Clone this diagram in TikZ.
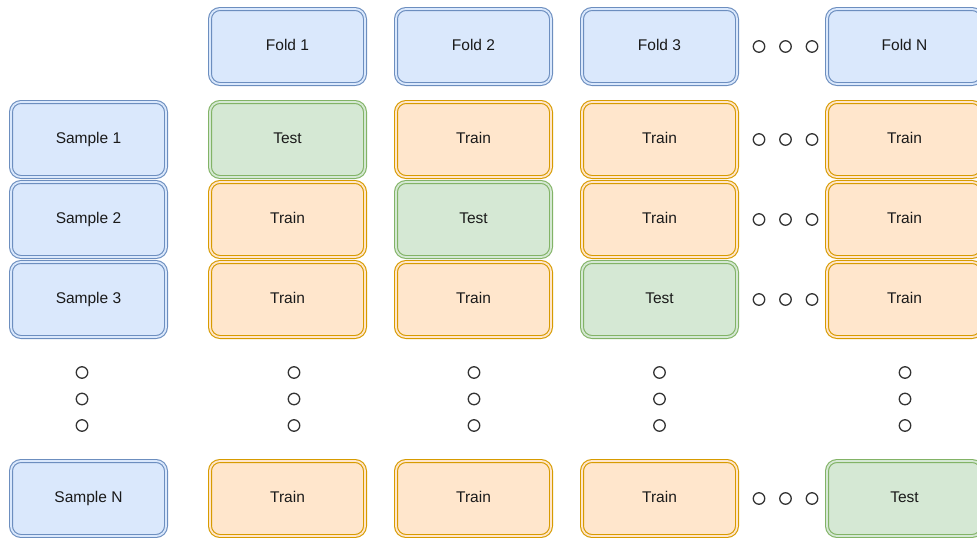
\documentclass[tikz,border=0pt]{standalone}
\usepackage{fontspec}
\setmainfont{Liberation Sans}
\definecolor{blueFill}{HTML}{DAE8FC}
\definecolor{blueLine}{HTML}{6C8EBF}
\definecolor{orangeFill}{HTML}{FFE6CC}
\definecolor{orangeLine}{HTML}{D79B00}
\definecolor{greenFill}{HTML}{D5E8D4}
\definecolor{greenLine}{HTML}{82B366}
\definecolor{dotLine}{HTML}{333333}
\definecolor{textInk}{HTML}{1A1A1A}
\tikzset{
  cell/.style={rectangle, rounded corners=10pt, minimum width=155pt, minimum height=75pt,
    line width=1.1pt, double distance=1.8pt, font=\fontsize{15.5}{18}\selectfont, text=textInk,
    inner sep=0pt, text height=11.5pt, text depth=4pt},
  bluecell/.style={cell, draw=blueLine, fill=blueFill, double=blueFill},
  traincell/.style={cell, draw=orangeLine, fill=orangeFill, double=orangeFill},
  testcell/.style={cell, draw=greenLine, fill=greenFill, double=greenFill},
  dot/.style={circle, draw=dotLine, line width=1.3pt, minimum size=11.5pt, inner sep=0pt}
}
\begin{document}
\begin{tikzpicture}[x=1pt, y=-1pt]
  \useasboundingbox (0,0) rectangle (977,538);
  \begin{scope}
  \clip (0,0) rectangle (977,538);

  % fold headers
  \node[bluecell] (f1) at (287.5,46.5) {Fold 1};
  \node[bluecell] (f2) at (473.5,46.5) {Fold 2};
  \node[bluecell] (f3) at (659.5,46.5) {Fold 3};
  \node[bluecell] (fn) at (904.5,46.5) {Fold N};

  % sample labels
  \node[bluecell] (s1) at (88.5,139.5) {Sample 1};
  \node[bluecell] (s2) at (88.5,219.5) {Sample 2};
  \node[bluecell] (s3) at (88.5,299.5) {Sample 3};
  \node[bluecell] (sn) at (88.5,498.5) {Sample N};

  % fold 1
  \node[testcell]  (c11) at (287.5,139.5) {Test};
  \node[traincell] (c21) at (287.5,219.5) {Train};
  \node[traincell] (c31) at (287.5,299.5) {Train};
  \node[traincell] (cn1) at (287.5,498.5) {Train};
  % fold 2
  \node[traincell] (c12) at (473.5,139.5) {Train};
  \node[testcell]  (c22) at (473.5,219.5) {Test};
  \node[traincell] (c32) at (473.5,299.5) {Train};
  \node[traincell] (cn2) at (473.5,498.5) {Train};
  % fold 3
  \node[traincell] (c13) at (659.5,139.5) {Train};
  \node[traincell] (c23) at (659.5,219.5) {Train};
  \node[testcell]  (c33) at (659.5,299.5) {Test};
  \node[traincell] (cn3) at (659.5,498.5) {Train};
  % fold N
  \node[traincell] (c1n) at (904.5,139.5) {Train};
  \node[traincell] (c2n) at (904.5,219.5) {Train};
  \node[traincell] (c3n) at (904.5,299.5) {Train};
  \node[testcell]  (cnn) at (904.5,498.5) {Test};

  % horizontal ellipses between fold 3 and fold N
  \foreach \r/\y in {h0/46.5, h1/139.5, h2/219.5, h3/299.5, hn/498.5} {
    \node[dot] (\r a) at (759,\y) {};
    \node[dot] (\r b) at (785.5,\y) {};
    \node[dot] (\r c) at (812,\y) {};
  }

  % vertical ellipses between row 3 and row N
  \foreach \c/\x in {vs/82, v1/294, v2/474, v3/659.5, vn/905} {
    \node[dot] (\c a) at (\x,372.5) {};
    \node[dot] (\c b) at (\x,399) {};
    \node[dot] (\c c) at (\x,425.5) {};
  }
  \end{scope}
\end{tikzpicture}
\end{document}
